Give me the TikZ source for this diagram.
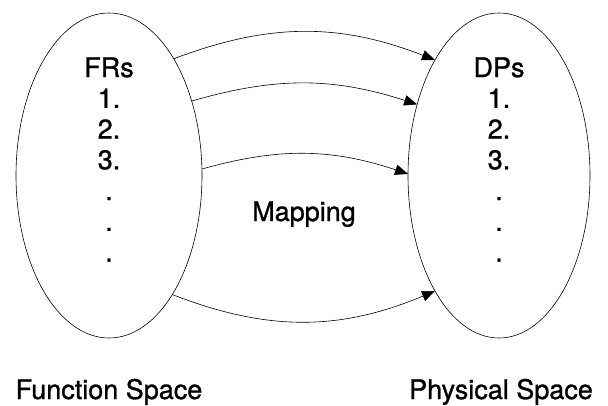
\documentclass[tikz,border=0pt]{standalone}
\usepackage{fontspec}
\setmainfont[FakeBold=1]{TeX Gyre Heros}
\usetikzlibrary{shapes.geometric}
\usetikzlibrary{arrows.meta}
\usetikzlibrary{positioning}

\begin{document}
\begin{tikzpicture}[x=1pt, y=1pt,
    every node/.style={font=\fontsize{27}{31}\selectfont},
    space/.style={draw, ellipse, line width=0.6pt, inner sep=0pt, outer sep=0pt, minimum width=186pt, minimum height=325pt},
    map/.style={-{Triangle[length=13pt, width=10.5pt]}, line width=0.6pt}]
    \useasboundingbox (0, 0) rectangle (608, -405);

    \node(FR) [space] at (109, -175.5) {};
    \node(DP) [space, minimum width=182pt] at (499, -175.5) {};

    \foreach \t [count=\i] in {FRs, 1., 2., 3., ., ., .}
      \node(FR\i) [anchor=base] at (109, {-46.25 - 30.75*\i}) {\t};
    \foreach \t [count=\i] in {DPs, 1., 2., 3., ., ., .}
      \node(DP\i) [anchor=base] at (499, {-46.25 - 30.75*\i}) {\t};

    \node(map) [anchor=base] at (304, -221) {Mapping};
    \node(fs) [anchor=base] at (109, -399) {Function Space};
    \node(ps) [anchor=base] at (501, -399) {Physical Space};

    \draw[map] (FR.61.6) to[bend left=21] (DP.119.6);
    \draw[map] (FR.42.3) to[bend left=17] (DP.139.3);
    \draw[map] (FR.4.6) to[bend left=17] (DP.179);
    \draw[map] (FR.-62) to[bend right=22] (DP.-119);
  \end{tikzpicture}
\end{document}
